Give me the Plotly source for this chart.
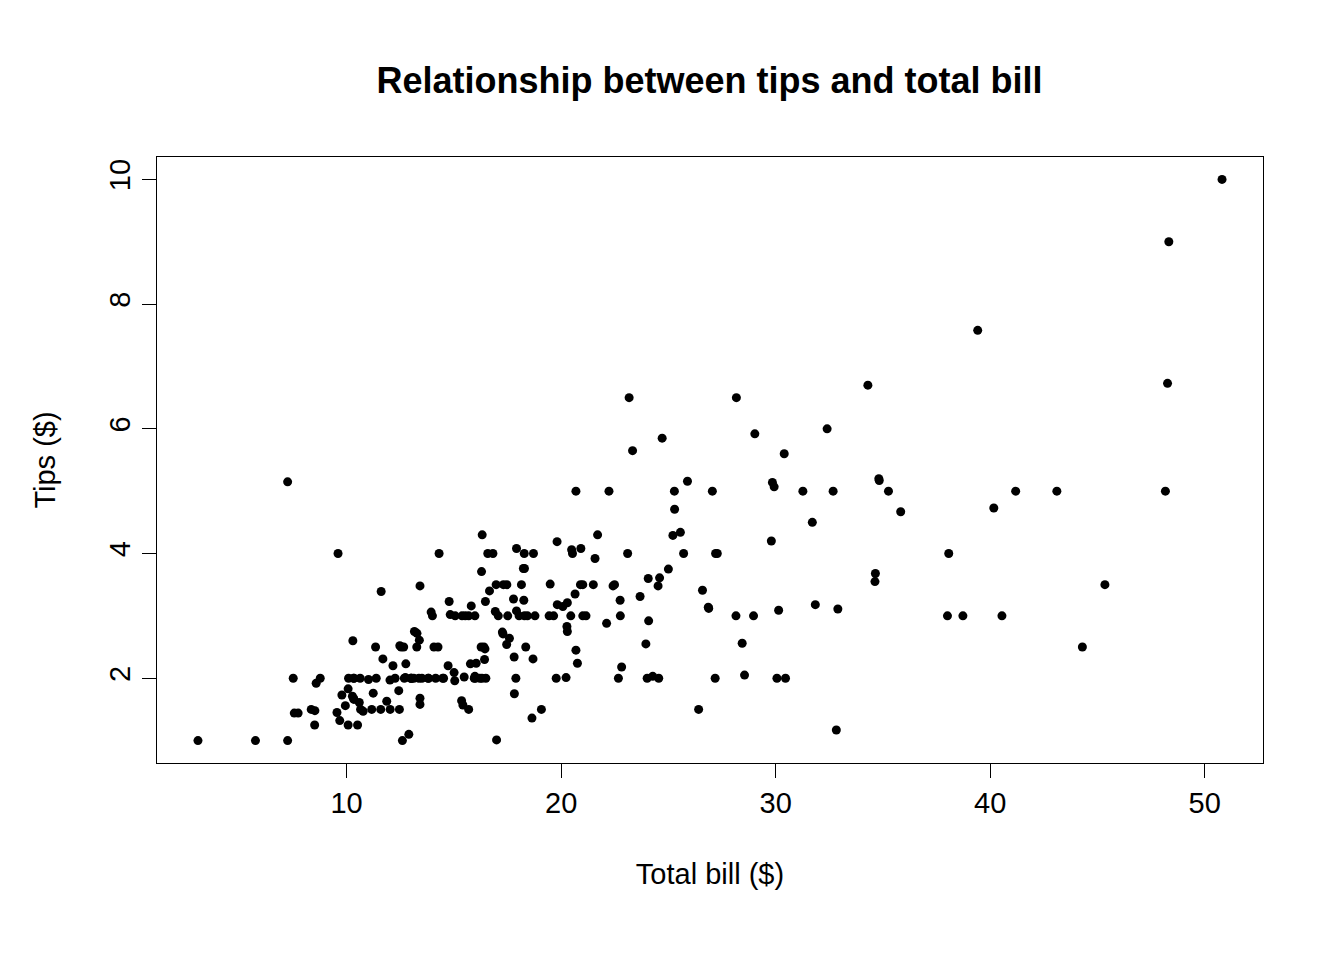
import plotly.graph_objects as go

total_bill = [16.99,10.34,21.01,23.68,24.59,25.29,8.77,26.88,15.04,14.78,10.27,35.26,15.42,18.43,14.83,21.58,10.33,16.29,16.97,20.65,
17.92,20.29,15.77,39.42,19.82,17.81,13.37,12.69,21.7,19.65,9.55,18.35,15.06,20.69,17.78,24.06,16.31,16.93,18.69,31.27,
16.04,17.46,13.94,9.68,30.4,18.29,22.23,32.4,28.55,18.04,12.54,10.29,34.81,9.94,25.56,19.49,38.01,26.41,11.24,48.27,
20.29,13.81,11.02,18.29,17.59,20.08,16.45,3.07,20.23,15.01,12.02,17.07,26.86,25.28,14.73,10.51,17.92,27.2,22.76,17.29,
19.44,16.66,10.07,32.68,15.98,34.83,13.03,18.28,24.71,21.16,28.97,22.49,5.75,16.32,22.75,40.17,27.28,12.03,21.01,12.46,
11.35,15.38,44.3,22.42,20.92,15.36,20.49,25.21,18.24,14.31,14.0,7.25,38.07,23.95,25.71,17.31,29.93,10.65,12.43,24.08,
11.69,13.42,14.26,15.95,12.48,29.8,8.52,14.52,11.38,22.82,19.08,20.27,11.17,12.26,18.26,8.51,10.33,14.15,16.0,13.16,
17.47,34.3,41.19,27.05,16.43,8.35,18.64,11.87,9.78,7.51,14.07,13.13,17.26,24.55,19.77,29.85,48.17,25.0,13.39,16.49,
21.5,12.66,16.21,13.81,17.51,24.52,20.76,31.71,10.59,10.63,50.81,15.81,7.25,31.85,16.82,32.9,17.89,14.48,9.6,34.63,
34.65,23.33,45.35,23.17,40.55,20.69,20.9,30.46,18.15,23.1,15.69,19.81,28.44,15.48,16.58,7.56,10.34,43.11,13.0,13.51,
18.71,12.74,13.0,16.4,20.53,16.47,26.59,38.73,24.27,12.76,30.06,25.89,48.33,13.27,28.17,12.9,28.15,11.59,7.74,30.14,
12.16,13.42,8.58,15.98,13.42,16.27,10.09,20.45,13.28,22.12,24.01,15.69,11.61,10.77,15.53,10.07,12.6,32.83,35.83,29.03,
27.18,22.67,17.82,18.78]
tips = [1.01,1.66,3.5,3.31,3.61,4.71,2.0,3.12,1.96,3.23,1.71,5.0,1.57,3.0,3.02,3.92,1.67,3.71,3.5,3.35,
4.08,2.75,2.23,7.58,3.18,2.34,2.0,2.0,4.3,3.0,1.45,2.5,3.0,2.45,3.27,3.6,2.0,3.07,2.31,5.0,
2.24,2.54,3.06,1.32,5.6,3.0,5.0,6.0,2.05,3.0,2.5,2.6,5.2,1.56,4.34,3.51,3.0,1.5,1.76,6.73,
3.21,2.0,1.98,3.76,2.64,3.15,2.47,1.0,2.01,2.09,1.97,3.0,3.14,5.0,2.2,1.25,3.08,4.0,3.0,2.71,
3.0,3.4,1.83,5.0,2.03,5.17,2.0,4.0,5.85,3.0,3.0,3.5,1.0,4.3,3.25,4.73,4.0,1.5,3.0,1.5,
2.5,3.0,2.5,3.48,4.08,1.64,4.06,4.29,3.76,4.0,3.0,1.0,4.0,2.55,4.0,3.5,5.07,1.5,1.8,2.92,
2.31,1.68,2.5,2.0,2.52,4.2,1.48,2.0,2.0,2.18,1.5,2.83,1.5,2.0,3.25,1.25,2.0,2.0,2.0,2.75,
3.5,6.7,5.0,5.0,2.3,1.5,1.36,1.63,1.73,2.0,2.5,2.0,2.74,2.0,2.0,5.14,5.0,3.75,2.61,2.0,
3.5,2.5,2.0,2.0,3.0,3.48,2.24,4.5,1.61,2.0,10.0,3.16,5.15,3.18,4.0,3.11,2.0,2.0,4.0,3.55,
3.68,5.65,3.5,6.5,3.0,5.0,3.5,2.0,3.5,4.0,1.5,4.19,2.56,2.02,4.0,1.44,2.0,5.0,2.0,2.0,
4.0,2.01,2.0,2.5,4.0,3.23,3.41,3.0,2.03,2.23,2.0,5.16,9.0,2.5,6.5,1.1,3.0,1.5,1.44,3.09,
2.2,3.48,1.92,3.0,1.58,2.5,2.0,3.0,2.72,2.88,2.0,3.0,3.39,1.47,3.0,1.25,1.0,1.17,4.67,5.92,
2.0,2.0,1.75,3.0]

fig = go.Figure(go.Scatter(x=total_bill, y=tips, mode="markers",
                           marker=dict(color="black", size=9)))

axis_common = dict(showgrid=False, zeroline=False, showline=True, mirror=True,
                   linecolor="black", linewidth=1, ticks="outside", ticklen=14,
                   tickcolor="black", tickfont=dict(size=29, color="black"))
fig.update_xaxes(range=[1.16, 52.72], tickvals=[10, 20, 30, 40, 50],
                 title=dict(text="Total bill ($)", font=dict(size=29, color="black"), standoff=45),
                 **axis_common)
fig.update_yaxes(range=[0.64, 10.36], tickvals=[2, 4, 6, 8, 10], tickangle=-90,
                 title=dict(text="Tips ($)", font=dict(size=29, color="black"), standoff=40),
                 **axis_common)
fig.update_layout(
    width=1344, height=960,
    title=dict(text="<b>Relationship between tips and total bill</b>", x=0.522, xanchor="center",
               y=0.925, yanchor="middle", font=dict(size=36, color="black")),
    font=dict(family="Liberation Sans, Arial"),
    plot_bgcolor="white", paper_bgcolor="white",
    margin=dict(l=149, r=89, t=149, b=205),
    showlegend=False,
)
fig.write_html("out.html")
